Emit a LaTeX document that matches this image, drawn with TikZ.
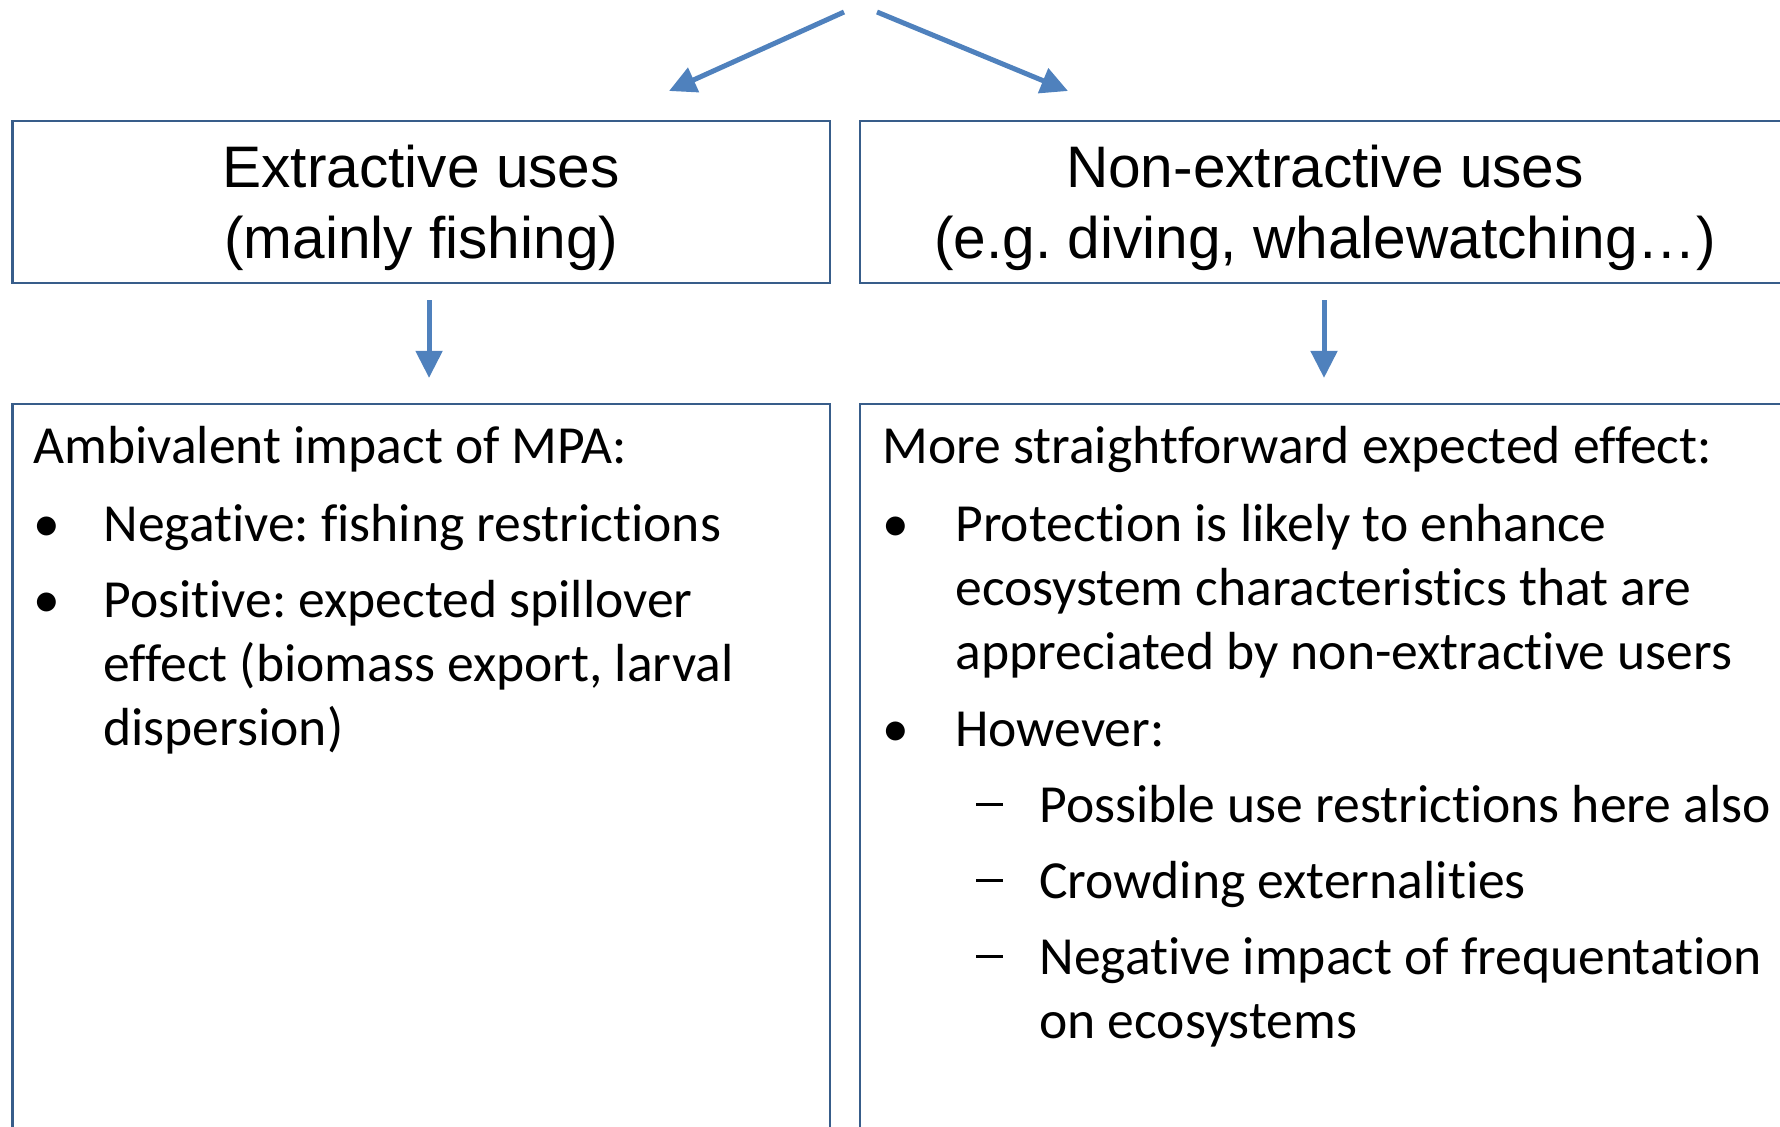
\documentclass[tikz,border=0pt]{standalone}
\usepackage{fontspec}
\newfontfamily\headfont[Ligatures=TeX]{Liberation Sans}
\newfontfamily\bodyfont[Ligatures={TeX,NoCommon}]{Carlito}
\usetikzlibrary{arrows.meta, positioning}

\definecolor{arrowblue}{HTML}{4F81BD}
\definecolor{boxblue}{HTML}{385D8A}

% pushes the first header line down a little
\newcommand{\headstrut}{\rule{0pt}{27pt}}
% second level list dash
\newcommand{\subdash}{\rule[8pt]{13.5pt}{1.3pt}}

\begin{document}
\frenchspacing
\begin{tikzpicture}[x=0.5pt, y=-0.5pt,
  headbox/.style={draw=boxblue, line width=1.1pt, inner sep=0pt, align=center,
    font=\headfont\fontsize{29.3}{35.5}\selectfont},
  effbox/.style={draw=boxblue, line width=1.1pt, inner sep=0pt},
  txt/.style={anchor=base west, inner sep=0pt, font=\bodyfont\fontsize{26.8}{32}\selectfont},
  flow/.style={-{Triangle[length=13.5pt, width=13pt]}, arrowblue, line width=2.5pt}]

% page frame (pixel grid, y pointing down)
\useasboundingbox (0,0) rectangle (1780,1126);

% the two kinds of use
\node[headbox, minimum width=408.75pt, minimum height=81pt] (ext) at (421.25,202)
  {\headstrut Extractive uses\\(mainly fishing)};
\node[headbox, minimum width=465pt, minimum height=81pt] (nonext) at (1325,202)
  {\headstrut Non-extractive uses\\(e.g. diving, whalewatching\dots)};

% effect boxes, running off the bottom of the page
\node[effbox, minimum width=408.75pt, minimum height=373pt] (effl) at (421.25,777) {};
\node[effbox, minimum width=465pt, minimum height=373pt] (effr) at (1325,777) {};

% split arrows coming in from above
\coordinate (srcL) at (844,12);
\coordinate (tipL) at (669,91);
\coordinate (srcR) at (877,12);
\coordinate (tipR) at (1068,91);
\draw[flow] (srcL) -- (tipL);
\draw[flow] (srcR) -- (tipR);

% uses -> effects
\draw[flow, shorten <=8pt, shorten >=12.5pt] ([xshift=3.9pt]ext.south) -- ([xshift=3.9pt]effl.north);
\draw[flow, shorten <=8pt, shorten >=12.5pt] ([xshift=-0.5pt]nonext.south) -- ([xshift=-0.5pt]effr.north);

% left effect text
\node[txt] (ambi) at (33,463) {Ambivalent impact of MPA:};
\node[txt] (lb1) at (33,541) {\textbullet};
\node[txt] (neg) at (103,541) {Negative: fishing restrictions};
\node[txt] (lb2) at (33,617) {\textbullet};
\node[txt] (pos1) at (103,617) {Positive: expected spillover};
\node[txt] (pos2) at (103,681) {effect (biomass export, larval};
\node[txt] (pos3) at (103,745) {dispersion)};

% right effect text
\node[txt] (more) at (882,463) {More straightforward expected effect:};
\node[txt] (rb1) at (882,541) {\textbullet};
\node[txt] (prot1) at (955,541) {Protection is likely to enhance};
\node[txt] (prot2) at (955,605) {ecosystem characteristics that are};
\node[txt] (prot3) at (955,669) {appreciated by non-extractive users};
\node[txt] (rb2) at (882,746) {\textbullet};
\node[txt] (however) at (955,746) {However:};
\node[txt] (rd1) at (976,822) {\subdash};
\node[txt] (poss) at (1039,822) {Possible use restrictions here also};
\node[txt] (rd2) at (976,898) {\subdash};
\node[txt] (crowd) at (1039,898) {Crowding externalities};
\node[txt] (rd3) at (976,974) {\subdash};
\node[txt] (freq1) at (1039,974) {Negative impact of frequentation};
\node[txt] (freq2) at (1039,1038) {on ecosystems};

\end{tikzpicture}
\end{document}
